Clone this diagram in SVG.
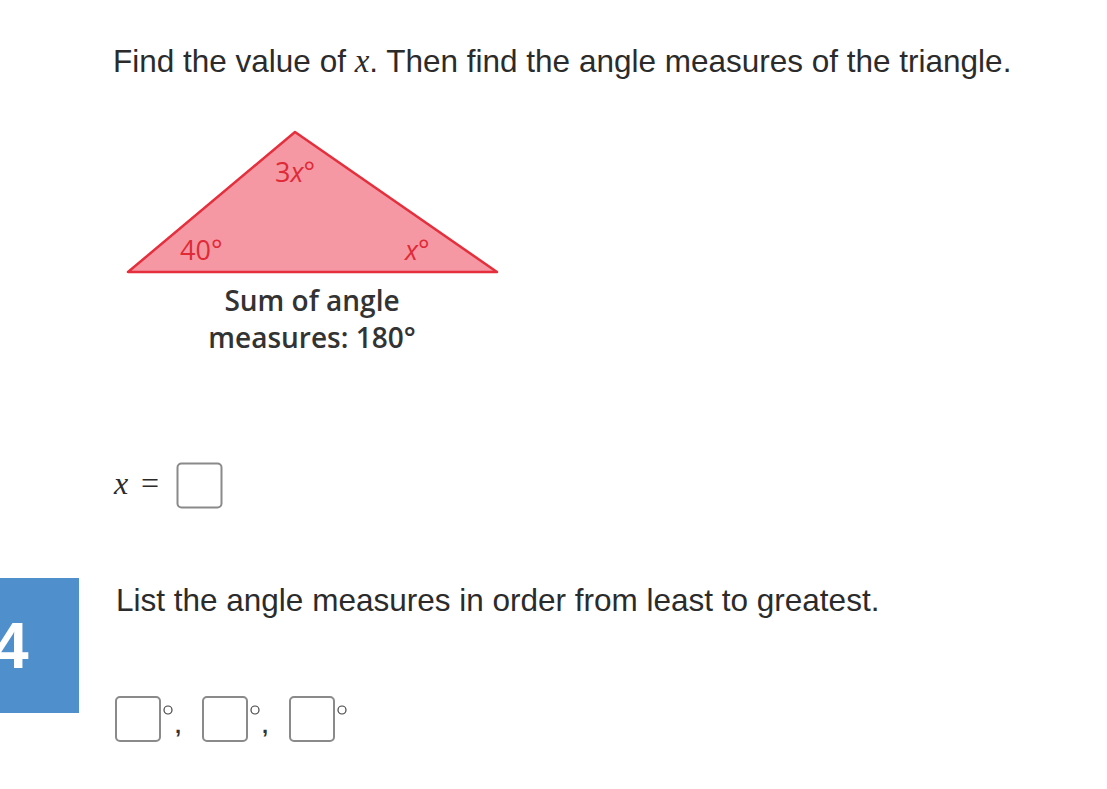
<svg xmlns="http://www.w3.org/2000/svg" width="1107" height="789" viewBox="0 0 1107 789">
<style>
.q{font-family:"Liberation Sans",Arial,sans-serif;font-size:31.5px;fill:#2b2b2b}
.m{font-family:"Liberation Serif","Times New Roman",serif;font-style:italic;font-size:32px;fill:#2b2b2b}
.lab{font-family:"Open Sans","Noto Sans",sans-serif;font-size:27px;fill:#e02a36}
.cap{font-family:"Open Sans","Noto Sans",sans-serif;font-weight:600;font-size:28px;fill:#333}
.box{fill:#fff;stroke:#8a8a8a;stroke-width:2}
.deg{fill:none;stroke:#444;stroke-width:1.2}
</style>
<rect width="1107" height="789" fill="#fff"/>
<g id="question">
<text class="q" x="113" y="72">Find the value of <tspan font-family="Liberation Serif,serif" font-style="italic" font-size="33">x</tspan>. Then find the angle measures of the triangle.</text>
</g>
<g id="triangle">
<polygon points="295,132 128,272 497,272" fill="#f598a4" stroke="#e52f3c" stroke-width="2.5" stroke-linejoin="round"/>
<text class="lab" x="275" y="182">3<tspan font-style="italic">x</tspan>°</text>
<text class="lab" x="180" y="260">40°</text>
<text class="lab" x="405" y="260" font-style="italic">x°</text>
<text class="cap" x="312" y="311" text-anchor="middle">Sum of angle</text>
<text class="cap" x="312" y="348" text-anchor="middle">measures: 180°</text>
</g>
<g id="answer-x">
<text x="114" y="494" font-family="Liberation Serif,serif" font-style="italic" font-size="32" fill="#2b2b2b">x</text>
<text x="141" y="494" font-family="Liberation Serif,serif" font-size="32" fill="#2b2b2b">=</text>
<rect class="box" x="177.5" y="463.5" width="44" height="44" rx="4"/>
</g>
<g id="number-badge">
<rect x="0" y="578" width="79" height="135" fill="#4f8fcc"/>
<text x="-7" y="668" font-family="Liberation Sans,Arial,sans-serif" font-weight="bold" font-size="64" fill="#fff">4</text>
</g>
<g id="list-question">
<text class="q" x="116" y="611">List the angle measures in order from least to greatest.</text>
</g>
<g id="answer-list">
<rect class="box" x="116" y="697" width="44" height="44" rx="4"/>
<circle class="deg" cx="168" cy="710" r="4"/>
<text x="175" y="733" font-family="Liberation Sans,sans-serif" font-weight="bold" font-size="22" fill="#333">,</text>
<rect class="box" x="203" y="697" width="44" height="44" rx="4"/>
<circle class="deg" cx="255" cy="710" r="4"/>
<text x="262" y="733" font-family="Liberation Sans,sans-serif" font-weight="bold" font-size="22" fill="#333">,</text>
<rect class="box" x="290" y="697" width="44" height="44" rx="4"/>
<circle class="deg" cx="342" cy="710" r="4"/>
</g>
</svg>
